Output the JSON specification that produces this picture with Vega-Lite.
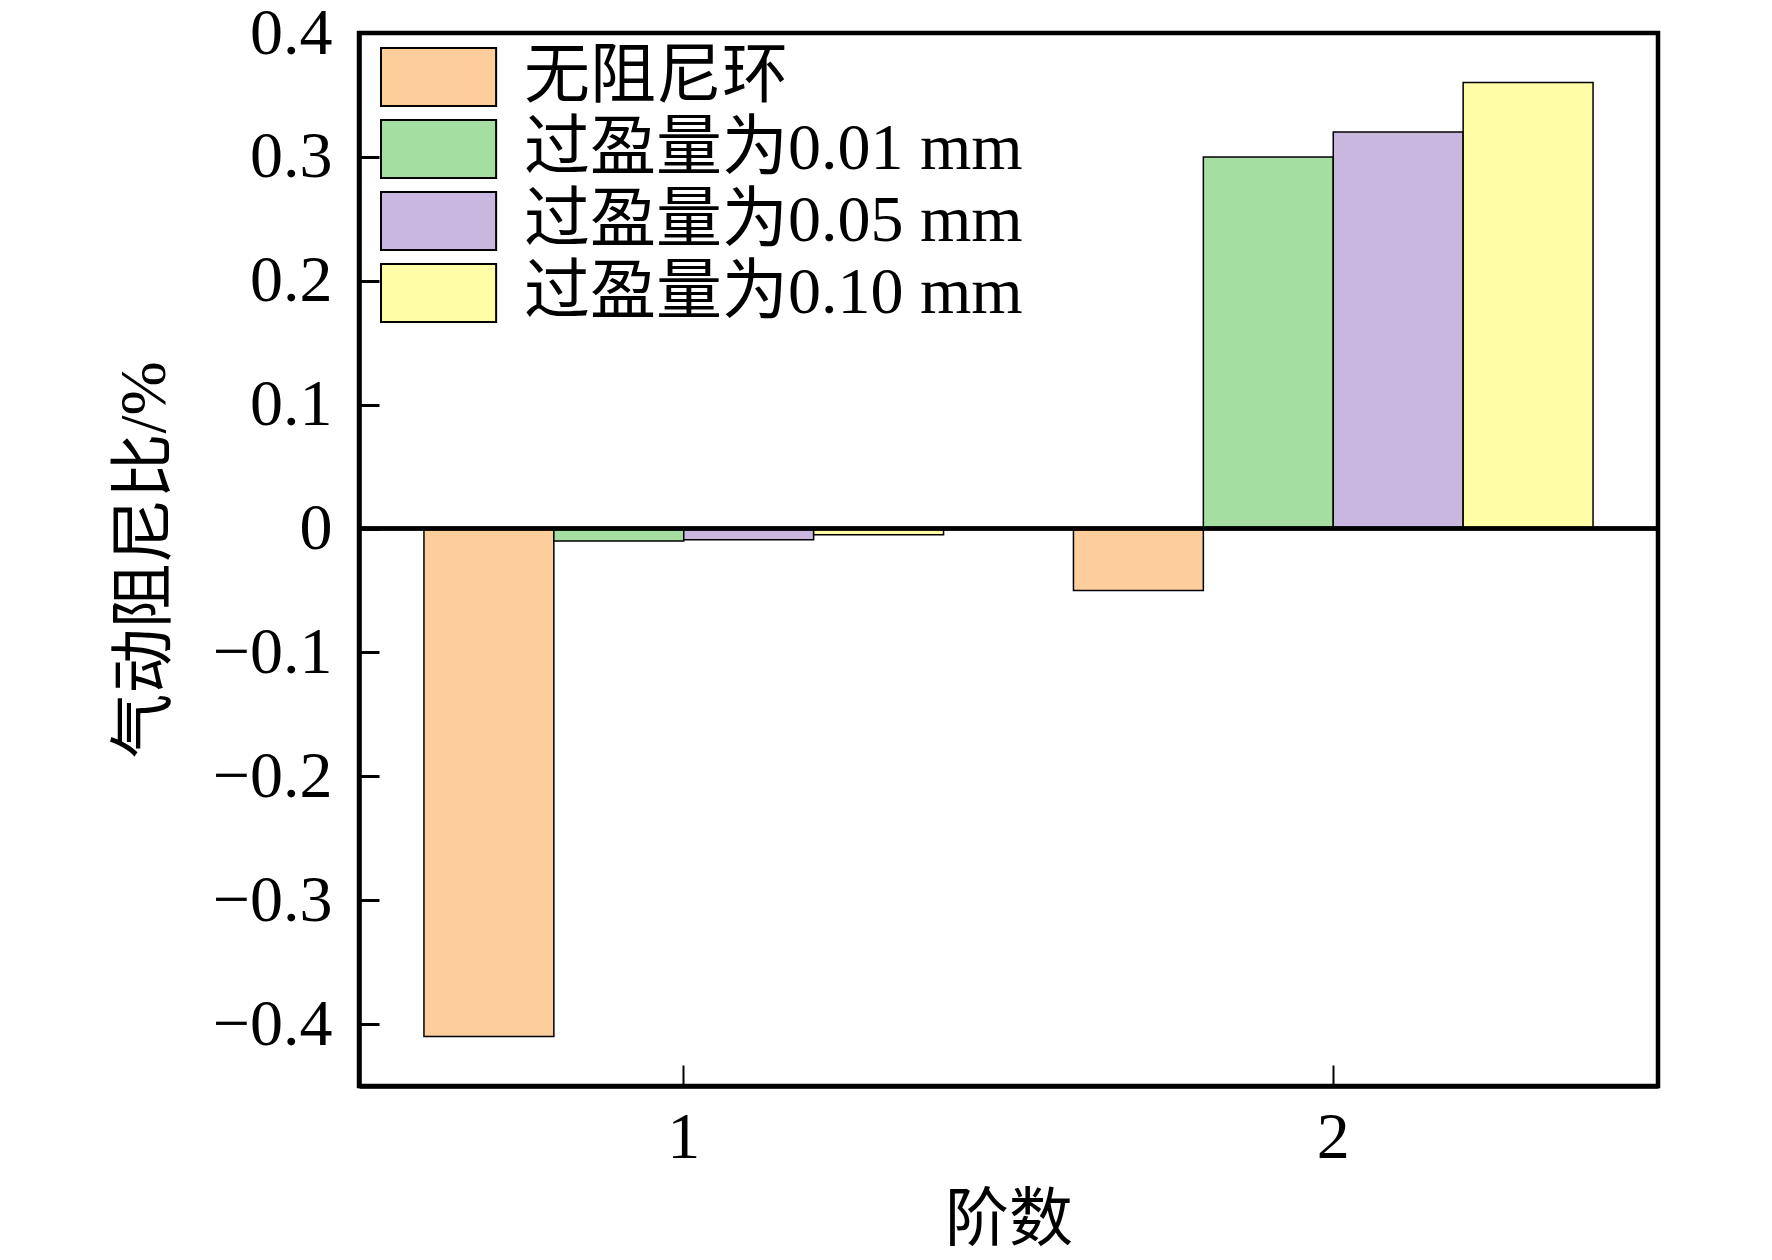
{
  "$schema": "https://vega.github.io/schema/vega-lite/v6.json",
  "description": "Aerodynamic damping ratio by mode order.",
  "autosize": "none",
  "padding": {"left": 359, "top": 33, "right": 114, "bottom": 174},
  "width": 1299,
  "height": 1053,
  "background": "white",
  "data": {
    "values": [
      {"order": "1", "case": "无阻尼环", "ratio": -0.41},
      {"order": "1", "case": "过盈量为0.01 mm", "ratio": -0.01},
      {"order": "1", "case": "过盈量为0.05 mm", "ratio": -0.009},
      {"order": "1", "case": "过盈量为0.10 mm", "ratio": -0.005},
      {"order": "2", "case": "无阻尼环", "ratio": -0.05},
      {"order": "2", "case": "过盈量为0.01 mm", "ratio": 0.30},
      {"order": "2", "case": "过盈量为0.05 mm", "ratio": 0.32},
      {"order": "2", "case": "过盈量为0.10 mm", "ratio": 0.36}
    ]
  },
  "layer": [
    {
      "mark": {"type": "bar", "stroke": "black", "strokeWidth": 1.5, "opacity": 1},
      "encoding": {
        "x": {
          "field": "order",
          "type": "nominal",
          "title": "阶数",
          "scale": {"paddingInner": 0.2, "paddingOuter": 0.1},
          "axis": {
            "labelAngle": 0,
            "labelFontSize": 66,
            "labelPadding": 40,
            "tickSize": -21,
            "tickWidth": 2,
            "titleFontSize": 64,
            "titlePadding": 18
          }
        },
        "xOffset": {
          "field": "case",
          "type": "nominal",
          "sort": ["无阻尼环", "过盈量为0.01 mm", "过盈量为0.05 mm", "过盈量为0.10 mm"],
          "scale": {"paddingInner": 0, "paddingOuter": 0}
        },
        "y": {
          "field": "ratio",
          "type": "quantitative",
          "title": "气动阻尼比/%",
          "scale": {"domain": [-0.45, 0.4], "nice": false, "zero": false},
          "axis": {
            "values": [-0.4, -0.3, -0.2, -0.1, 0, 0.1, 0.2, 0.3, 0.4],
            "labelExpr": "datum.value == 0 ? '0' : format(datum.value, '.1f')",
            "labelFontSize": 66,
            "labelPadding": 47,
            "tickSize": -20,
            "tickWidth": 3,
            "grid": false,
            "titleFontSize": 65,
            "titlePadding": 34
          }
        },
        "color": {
          "field": "case",
          "type": "nominal",
          "sort": ["无阻尼环", "过盈量为0.01 mm", "过盈量为0.05 mm", "过盈量为0.10 mm"],
          "scale": {
            "domain": ["无阻尼环", "过盈量为0.01 mm", "过盈量为0.05 mm", "过盈量为0.10 mm"],
            "range": ["#fdce9c", "#a4dea0", "#c9b7df", "#fffda5"]
          },
          "legend": {
            "title": null,
            "orient": "none",
            "legendX": 18,
            "legendY": 11,
            "padding": 0,
            "symbolType": "M-1,-1H2.97V1H-1Z",
            "symbolSize": 3364,
            "symbolStrokeColor": "black",
            "symbolStrokeWidth": 2,
            "symbolOpacity": 1,
            "labelFontSize": 66,
            "labelOffset": 81,
            "labelColor": "black",
            "rowPadding": 6,
            "labelLimit": 800
          }
        }
      }
    },
    {
      "mark": {"type": "rule", "color": "black", "strokeWidth": 3.5},
      "encoding": {"y": {"datum": 0}}
    }
  ],
  "config": {
    "font": "Liberation Serif, Noto Sans CJK SC",
    "view": {"stroke": "black", "strokeWidth": 4.5},
    "axis": {
      "domainColor": "black",
      "domainWidth": 4.5,
      "tickColor": "black",
      "labelColor": "black",
      "titleColor": "black",
      "labelFont": "Liberation Serif, Noto Sans CJK SC",
      "titleFont": "Liberation Serif, Noto Sans CJK SC",
      "titleFontWeight": "normal"
    },
    "legend": {
      "labelFont": "Liberation Serif, Noto Sans CJK SC"
    }
  }
}
